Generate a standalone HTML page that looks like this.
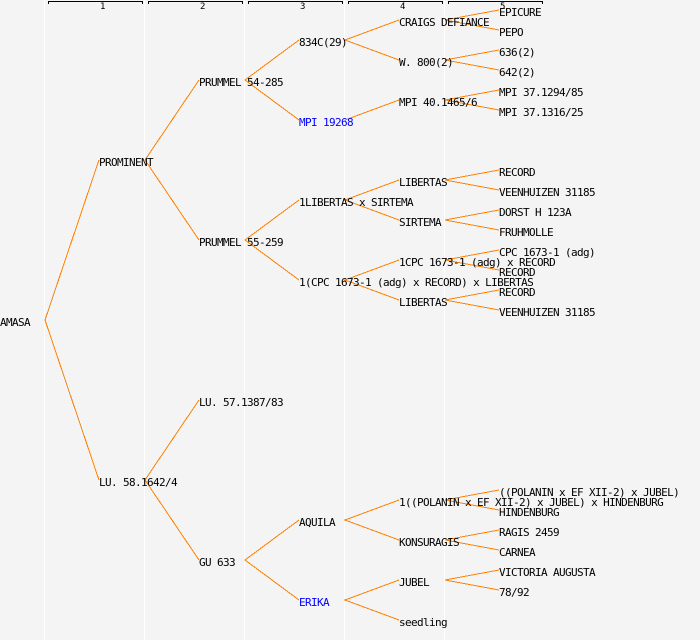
<!DOCTYPE html>
<html>
<head>
<meta charset="utf-8">
<style>
html,body{margin:0;padding:0;background:#f4f4f4;}
svg{display:block;}
text{font-family:"DejaVu Sans Mono","Liberation Mono",monospace;font-size:11px;letter-spacing:-0.62px;fill:#000;}
.n{font-size:9px;letter-spacing:0;}
.b{fill:#0000ff;}
.v{stroke:#fff;stroke-width:1;fill:none;shape-rendering:crispEdges;}
.k{stroke:#000;stroke-width:1;fill:none;shape-rendering:crispEdges;}
.o{stroke:#ff8000;stroke-width:1;fill:none;shape-rendering:crispEdges;}
</style>
</head>
<body>
<svg width="700" height="640" viewBox="0 0 700 640" xmlns="http://www.w3.org/2000/svg">
<rect width="700" height="640" fill="#f4f4f4"/>
<path class="v" d="M44.5 0V640M144.5 0V640M244.5 0V640M344.5 0V640M444.5 0V640"/>
<path class="k" d="M48.5 4V1.5H142.5V4M148.5 4V1.5H242.5V4M248.5 4V1.5H342.5V4M348.5 4V1.5H442.5V4M448.5 4V1.5H542.5V4"/>
<text class="n" x="100" y="9">1</text>
<text class="n" x="200" y="9">2</text>
<text class="n" x="300" y="9">3</text>
<text class="n" x="400" y="9">4</text>
<text class="n" x="500" y="9">5</text>

<polyline class="o" points="99,160 45,320 99,480"/>
<polyline class="o" points="199,80 145,160 199,240"/>
<polyline class="o" points="199,400 145,480 199,560"/>
<polyline class="o" points="299,40 245,80 299,120"/>
<polyline class="o" points="299,200 245,240 299,280"/>
<polyline class="o" points="299,520 245,560 299,600"/>
<polyline class="o" points="399,20 345,40 399,60"/>
<polyline class="o" points="399,100 345,120"/>
<polyline class="o" points="399,180 345,200 399,220"/>
<polyline class="o" points="399,260 345,280 399,300"/>
<polyline class="o" points="399,500 345,520 399,540"/>
<polyline class="o" points="399,580 345,600 399,620"/>
<polyline class="o" points="499,10 445,20 499,30"/>
<polyline class="o" points="499,50 445,60 499,70"/>
<polyline class="o" points="499,90 445,100 499,110"/>
<polyline class="o" points="499,170 445,180 499,190"/>
<polyline class="o" points="499,210 445,220 499,230"/>
<polyline class="o" points="499,250 445,260 499,270"/>
<polyline class="o" points="499,290 445,300 499,310"/>
<polyline class="o" points="499,490 445,500 499,510"/>
<polyline class="o" points="499,530 445,540 499,550"/>
<polyline class="o" points="499,570 445,580 499,590"/>

<text x="0" y="326">AMASA</text>
<text x="99" y="166">PROMINENT</text>
<text x="99" y="486">LU. 58.1642/4</text>
<text x="199" y="86">PRUMMEL 54-285</text>
<text x="199" y="246">PRUMMEL 55-259</text>
<text x="199" y="406">LU. 57.1387/83</text>
<text x="199" y="566">GU 633</text>
<text x="299" y="46">834C(29)</text>
<text class="b" x="299" y="126">MPI 19268</text>
<text x="299" y="206">1LIBERTAS x SIRTEMA</text>
<text x="299" y="286">1(CPC 1673-1 (adg) x RECORD) x LIBERTAS</text>
<text x="299" y="526">AQUILA</text>
<text class="b" x="299" y="606">ERIKA</text>
<text x="399" y="26">CRAIGS DEFIANCE</text>
<text x="399" y="66">W. 800(2)</text>
<text x="399" y="106">MPI 40.1465/6</text>
<text x="399" y="186">LIBERTAS</text>
<text x="399" y="226">SIRTEMA</text>
<text x="399" y="266">1CPC 1673-1 (adg) x RECORD</text>
<text x="399" y="306">LIBERTAS</text>
<text x="399" y="506">1((POLANIN x EF XII-2) x JUBEL) x HINDENBURG</text>
<text x="399" y="546">KONSURAGIS</text>
<text x="399" y="586">JUBEL</text>
<text x="399" y="626">seedling</text>
<text x="499" y="16">EPICURE</text>
<text x="499" y="36">PEPO</text>
<text x="499" y="56">636(2)</text>
<text x="499" y="76">642(2)</text>
<text x="499" y="96">MPI 37.1294/85</text>
<text x="499" y="116">MPI 37.1316/25</text>
<text x="499" y="176">RECORD</text>
<text x="499" y="196">VEENHUIZEN 31185</text>
<text x="499" y="216">DORST H 123A</text>
<text x="499" y="236">FRUHMOLLE</text>
<text x="499" y="256">CPC 1673-1 (adg)</text>
<text x="499" y="276">RECORD</text>
<text x="499" y="296">RECORD</text>
<text x="499" y="316">VEENHUIZEN 31185</text>
<text x="499" y="496">((POLANIN x EF XII-2) x JUBEL)</text>
<text x="499" y="516">HINDENBURG</text>
<text x="499" y="536">RAGIS 2459</text>
<text x="499" y="556">CARNEA</text>
<text x="499" y="576">VICTORIA AUGUSTA</text>
<text x="499" y="596">78/92</text>
</svg>
</body>
</html>
